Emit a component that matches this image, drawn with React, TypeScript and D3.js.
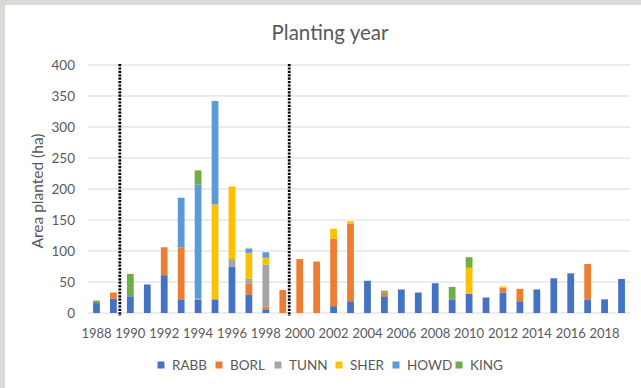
import React from "react";
import * as d3 from "d3";

const years: number[] = [
  1988, 1989, 1990, 1991, 1992, 1993, 1994, 1995, 1996, 1997, 1998, 1999, 2000, 2001, 2002, 2003,
  2004, 2005, 2006, 2007, 2008, 2009, 2010, 2011, 2012, 2013, 2014, 2015, 2016, 2017, 2018, 2019,
];
const seriesKeys = ["RABB", "BORL", "TUNN", "SHER", "HOWD", "KING"];
const RABB = [16, 23, 27, 46, 61, 21, 21, 22, 75, 30, 6, 0, 0, 0, 11, 19, 52, 27, 38, 33, 48, 22, 31, 25, 33, 19, 38, 56, 64, 22, 22, 55];
const BORL = [0, 10, 0, 0, 45, 85, 0, 0, 0, 17, 4, 37, 87, 83, 109, 125, 0, 6, 0, 0, 0, 0, 0, 0, 8, 20, 0, 0, 0, 57, 0, 0];
const TUNN = [0, 0, 0, 0, 0, 0, 3, 0, 12, 8, 68, 0, 0, 0, 0, 0, 0, 0, 0, 0, 0, 0, 0, 0, 0, 0, 0, 0, 0, 0, 0, 0];
const SHER = [0, 0, 0, 0, 0, 0, 0, 153, 117, 42, 11, 0, 0, 0, 16, 4, 0, 0, 0, 0, 0, 0, 42, 0, 2, 0, 0, 0, 0, 0, 0, 0];
const HOWD = [0, 0, 0, 0, 0, 80, 183, 167, 0, 7, 9, 0, 0, 0, 0, 0, 0, 0, 0, 0, 0, 0, 0, 0, 0, 0, 0, 0, 0, 0, 0, 0];
const KING = [4, 0, 36, 0, 0, 0, 23, 0, 0, 0, 0, 0, 0, 0, 0, 0, 0, 3, 0, 0, 0, 20, 17, 0, 0, 0, 0, 0, 0, 0, 0, 0];
const seriesValues: Record<string, number[]> = { RABB, BORL, TUNN, SHER, HOWD, KING };
const colors: Record<string, string> = {
  RABB: "#4472C4",
  BORL: "#ED7D31",
  TUNN: "#A5A5A5",
  SHER: "#FFC000",
  HOWD: "#5B9BD5",
  KING: "#70AD47",
};
const yTicks = [0, 50, 100, 150, 200, 250, 300, 350, 400];
const xTickYears = years.filter((y) => y % 2 === 0);
const markerYears = [1989, 1999];
const legendX = [161, 219, 278, 339, 396, 459];

const W = 641;
const H = 388;
const left = 88;
const right = 630;
const top = 65;
const bottom = 313;
const FONT = "Lato, 'Open Sans', sans-serif";
const TXT = "#595959";

export default function App() {
  const x = d3.scaleBand<number>().domain(years).range([left, right]).paddingInner(0.6).paddingOuter(0.3);
  const step = x.step();
  const y = d3.scaleLinear().domain([0, 400]).range([bottom, top]);
  const rows = years.map((yr, i) => {
    const r: any = { year: yr };
    seriesKeys.forEach((k) => (r[k] = seriesValues[k][i]));
    return r;
  });
  const stacked = d3.stack<any>().keys(seriesKeys)(rows);
  const bandStart = (yr: number) => left + years.indexOf(yr) * step;

  return (
    <svg width={W} height={H} style={{ position: "absolute", left: 0, top: 0 }} fontFamily={FONT}>
      <rect x={0} y={0} width={W} height={H} fill="#d9d9d6" />
      <rect x={5} y={5} width={W - 5} height={H - 5} fill="#ffffff" />
      <text x={330} y={40} textAnchor="middle" fontSize={20.5} fill={TXT}>
        Planting year
      </text>
      {yTicks.map((t) => (
        <g key={t}>
          <line x1={left} x2={right} y1={y(t)} y2={y(t)} stroke="#d9d9d9" strokeWidth={1} />
          <text x={75} y={y(t) + 4.8} textAnchor="end" fontSize={13.5} fill={TXT}>
            {t}
          </text>
        </g>
      ))}
      <text transform={`translate(43,${(top + bottom) / 2 + 2}) rotate(-90)`} textAnchor="middle" fontSize={15.5} fill={TXT}>
        Area planted (ha)
      </text>
      {stacked.map((s) => (
        <g key={s.key} fill={colors[s.key]}>
          {s.map((d, i) =>
            d[1] - d[0] > 0 ? (
              <rect key={i} x={x(years[i])} width={x.bandwidth()} y={y(d[1])} height={y(d[0]) - y(d[1])} />
            ) : null
          )}
        </g>
      ))}
      {xTickYears.map((yr) => (
        <text key={yr} x={(x(yr) as number) + x.bandwidth() / 2} y={338} textAnchor="middle" fontSize={13} fill={TXT}>
          {yr}
        </text>
      ))}
      {markerYears.map((yr) => (
        <line
          key={yr}
          x1={bandStart(yr) + step * 0.88}
          x2={bandStart(yr) + step * 0.88}
          y1={64}
          y2={316}
          stroke="#000"
          strokeWidth={2.8}
          strokeDasharray="2.2 1.2"
        />
      ))}
      {seriesKeys.map((k, i) => (
        <g key={k}>
          <rect x={legendX[i] - 3.5} y={361.5} width={7} height={7} fill={colors[k]} />
          <text x={legendX[i] + 11} y={369.8} fontSize={13.5} fill={TXT}>
            {k}
          </text>
        </g>
      ))}
    </svg>
  );
}
